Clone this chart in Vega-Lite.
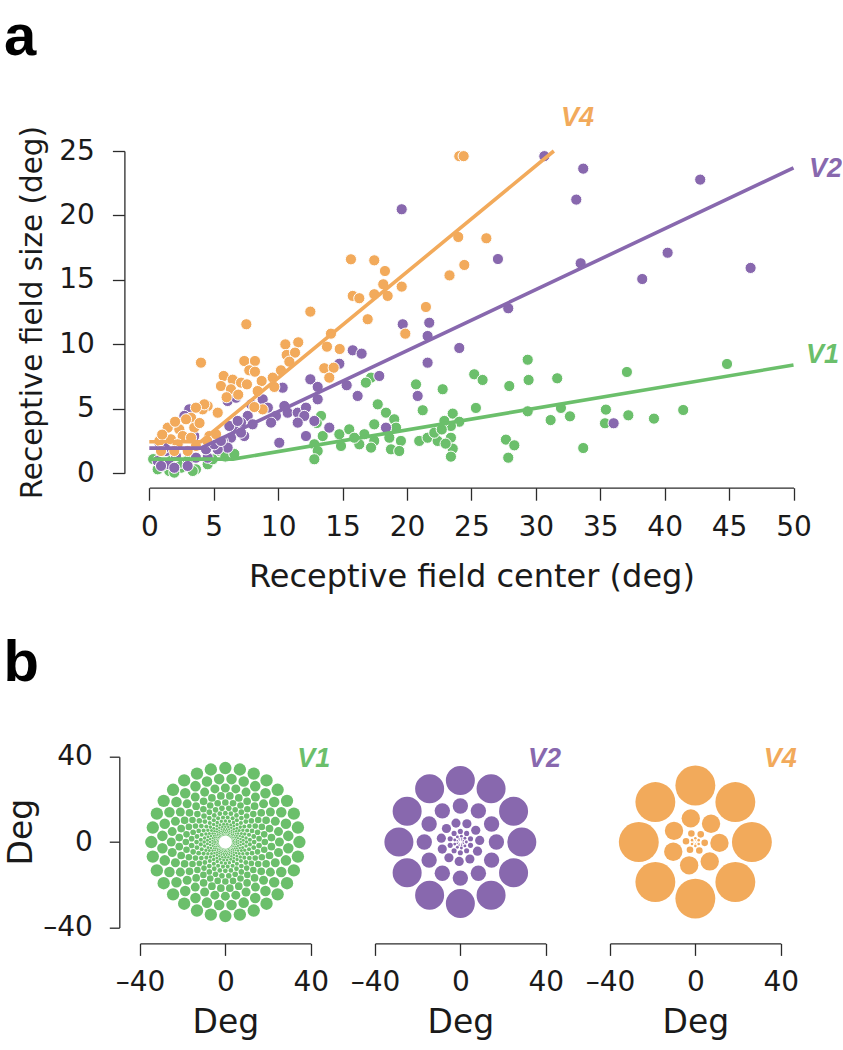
{
"$schema":"https://vega.github.io/schema/vega-lite/v6.json",
"background":"white",
"padding":{"left":3,"top":8,"right":0,"bottom":0},
"bounds":"flush",
"spacing":282.7,
"config":{
 "view":{"stroke":null},
 "font":"DejaVu Sans",
 "axis":{"grid":false,"domainColor":"#2b2b2b","tickColor":"#2b2b2b","domainWidth":1.3,"tickWidth":1.3,"labelColor":"#1a1a1a","titleColor":"#1a1a1a","labelFont":"DejaVu Sans","titleFont":"DejaVu Sans","titleFontWeight":"normal","labelFontSize":28,"titleFontSize":33,"labelOverlap":false,"labelFlush":false}
},
"datasets":{
 "pts":[
{"c":"V1","x":29.37,"y":8.81},{"c":"V1","x":25.22,"y":7.68},{"c":"V1","x":25.87,"y":7.24},{"c":"V1","x":29.44,"y":7.24},{"c":"V1","x":27.94,"y":6.77},{"c":"V1","x":31.66,"y":7.37},{"c":"V1","x":37.07,"y":7.86},{"c":"V1","x":44.84,"y":8.48},{"c":"V1","x":25.35,"y":5.07},{"c":"V1","x":23.55,"y":4.63},{"c":"V1","x":24.06,"y":4.0},{"c":"V1","x":23.41,"y":3.67},{"c":"V1","x":29.37,"y":4.81},{"c":"V1","x":31.95,"y":5.07},{"c":"V1","x":31.15,"y":4.13},{"c":"V1","x":32.65,"y":4.42},{"c":"V1","x":35.44,"y":4.94},{"c":"V1","x":35.37,"y":3.88},{"c":"V1","x":37.18,"y":4.5},{"c":"V1","x":39.17,"y":4.24},{"c":"V1","x":41.44,"y":4.91},{"c":"V1","x":23.41,"y":2.76},{"c":"V1","x":23.55,"y":1.91},{"c":"V1","x":23.41,"y":1.29},{"c":"V1","x":27.68,"y":2.61},{"c":"V1","x":28.33,"y":2.17},{"c":"V1","x":27.86,"y":1.21},{"c":"V1","x":33.68,"y":1.96},
{"c":"V1","x":17.21,"y":7.42},{"c":"V1","x":16.81,"y":7.03},{"c":"V1","x":20.7,"y":6.9},{"c":"V1","x":22.77,"y":6.52},{"c":"V1","x":21.22,"y":4.89},{"c":"V1","x":17.73,"y":5.35},{"c":"V1","x":18.37,"y":4.7},{"c":"V1","x":17.46,"y":3.8},{"c":"V1","x":19.01,"y":4.19},{"c":"V1","x":19.15,"y":3.54},{"c":"V1","x":22.9,"y":4.06},{"c":"V1","x":13.33,"y":4.45},{"c":"V1","x":13.0,"y":3.9},{"c":"V1","x":14.75,"y":3.03},{"c":"V1","x":15.52,"y":3.41},{"c":"V1","x":16.69,"y":3.03},{"c":"V1","x":13.46,"y":2.89},{"c":"V1","x":12.81,"y":2.25},{"c":"V1","x":13.07,"y":1.73},{"c":"V1","x":12.81,"y":1.09},{"c":"V1","x":14.88,"y":2.12},{"c":"V1","x":16.3,"y":2.25},{"c":"V1","x":15.91,"y":2.76},{"c":"V1","x":17.46,"y":2.51},{"c":"V1","x":17.21,"y":1.99},{"c":"V1","x":18.63,"y":2.76},{"c":"V1","x":18.76,"y":1.86},{"c":"V1","x":19.53,"y":2.51},{"c":"V1","x":19.4,"y":1.73},{"c":"V1","x":20.95,"y":2.51},{"c":"V1","x":21.6,"y":2.76},{"c":"V1","x":22.38,"y":2.51},{"c":"V1","x":22.12,"y":3.15},{"c":"V1","x":23.0,"y":2.3},{"c":"V1","x":22.7,"y":3.4},
{"c":"V1","x":0.65,"y":0.31},{"c":"V1","x":1.55,"y":0.18},{"c":"V1","x":2.46,"y":0.43},{"c":"V1","x":3.62,"y":0.31},{"c":"V1","x":4.53,"y":0.7},{"c":"V1","x":5.43,"y":1.73},{"c":"V1","x":4.92,"y":1.09},{"c":"V1","x":2.46,"y":0.82},{"c":"V1","x":1.04,"y":0.6},{"c":"V1","x":3.0,"y":1.0},{"c":"V1","x":5.9,"y":1.3},{"c":"V1","x":6.6,"y":1.5},{"c":"V1","x":0.3,"y":1.1},{"c":"V1","x":1.8,"y":1.2},{"c":"V1","x":1.94,"y":0.05},{"c":"V1","x":3.37,"y":0.18},
{"c":"V2","x":30.66,"y":24.6},{"c":"V2","x":33.68,"y":23.63},{"c":"V2","x":42.76,"y":22.78},{"c":"V2","x":33.14,"y":21.23},{"c":"V2","x":27.06,"y":16.62},{"c":"V2","x":40.23,"y":17.11},{"c":"V2","x":33.48,"y":16.29},{"c":"V2","x":46.67,"y":15.93},{"c":"V2","x":38.26,"y":15.07},{"c":"V2","x":27.86,"y":12.8},{"c":"V2","x":24.06,"y":9.72},{"c":"V2","x":36.04,"y":3.88},{"c":"V2","x":19.59,"y":20.48},
{"c":"V2","x":19.67,"y":11.56},{"c":"V2","x":21.73,"y":11.68},{"c":"V2","x":21.6,"y":10.65},{"c":"V2","x":21.6,"y":8.58},{"c":"V2","x":15.79,"y":9.54},{"c":"V2","x":16.48,"y":9.28},{"c":"V2","x":14.75,"y":8.5},{"c":"V2","x":17.85,"y":7.55},{"c":"V2","x":12.5,"y":7.29},{"c":"V2","x":13.07,"y":6.7},{"c":"V2","x":15.32,"y":6.83},{"c":"V2","x":16.17,"y":6.0},{"c":"V2","x":20.83,"y":6.0},{"c":"V2","x":13.07,"y":5.74},{"c":"V2","x":10.35,"y":6.64},{"c":"V2","x":8.8,"y":5.74},{"c":"V2","x":10.48,"y":5.22},{"c":"V2","x":9.83,"y":4.45},{"c":"V2","x":10.74,"y":4.7},{"c":"V2","x":9.45,"y":3.93},{"c":"V2","x":11.52,"y":4.7},{"c":"V2","x":12.16,"y":5.09},{"c":"V2","x":12.03,"y":4.45},{"c":"V2","x":12.81,"y":4.06},{"c":"V2","x":11.52,"y":3.93},{"c":"V2","x":13.97,"y":3.54},{"c":"V2","x":12.16,"y":2.89},{"c":"V2","x":10.09,"y":2.37},{"c":"V2","x":18.37,"y":3.54},{"c":"V2","x":7.64,"y":4.45},{"c":"V2","x":8.02,"y":3.8},{"c":"V2","x":7.12,"y":3.93},{"c":"V2","x":6.73,"y":3.28},{"c":"V2","x":7.37,"y":2.89},{"c":"V2","x":6.34,"y":2.76},{"c":"V2","x":5.7,"y":2.51},{"c":"V2","x":6.08,"y":1.99},{"c":"V2","x":5.31,"y":1.86},{"c":"V2","x":6.08,"y":5.61},{"c":"V2","x":3.1,"y":4.96},{"c":"V2","x":1.3,"y":1.73},{"c":"V2","x":0.65,"y":0.95},{"c":"V2","x":1.55,"y":0.7},{"c":"V2","x":2.98,"y":0.57},{"c":"V2","x":3.62,"y":1.21},{"c":"V2","x":4.53,"y":1.21},{"c":"V2","x":4.4,"y":1.86},{"c":"V2","x":5.04,"y":2.25},
{"c":"V2","x":6.73,"y":5.86},{"c":"V2","x":7.9,"y":5.35},{"c":"V2","x":9.2,"y":5.09},{"c":"V2","x":2.72,"y":4.45},{"c":"V2","x":0.78,"y":2.37},{"c":"V2","x":0.91,"y":0.57},{"c":"V2","x":1.94,"y":0.43},{"c":"V2","x":2.07,"y":1.34},{"c":"V2","x":5.56,"y":2.51},{"c":"V2","x":6.21,"y":3.67},{"c":"V2","x":6.86,"y":4.06},{"c":"V2","x":7.12,"y":3.15},{"c":"V2","x":3.49,"y":2.89},{"c":"V2","x":1.2,"y":2.0},
{"c":"V4","x":24.06,"y":24.6},{"c":"V4","x":24.4,"y":24.6},{"c":"V4","x":23.98,"y":18.33},{"c":"V4","x":26.16,"y":18.23},{"c":"V4","x":24.45,"y":16.16},{"c":"V4","x":23.3,"y":15.35},{"c":"V4","x":15.65,"y":16.6},{"c":"V4","x":17.46,"y":16.52},{"c":"V4","x":18.29,"y":15.69},{"c":"V4","x":18.16,"y":14.66},{"c":"V4","x":19.59,"y":14.48},{"c":"V4","x":15.79,"y":13.76},{"c":"V4","x":16.3,"y":13.58},{"c":"V4","x":17.46,"y":13.89},{"c":"V4","x":18.5,"y":13.76},{"c":"V4","x":12.5,"y":12.54},{"c":"V4","x":21.47,"y":12.9},{"c":"V4","x":16.95,"y":11.95},{"c":"V4","x":7.53,"y":11.56},{"c":"V4","x":19.87,"y":10.83},{"c":"V4","x":14.1,"y":10.83},{"c":"V4","x":10.56,"y":10.0},{"c":"V4","x":11.56,"y":10.16},{"c":"V4","x":13.79,"y":9.82},{"c":"V4","x":14.78,"y":9.64},{"c":"V4","x":10.66,"y":9.18},{"c":"V4","x":11.31,"y":9.36},{"c":"V4","x":10.87,"y":8.66},{"c":"V4","x":4.01,"y":8.58},{"c":"V4","x":7.37,"y":8.71},{"c":"V4","x":8.2,"y":8.71},{"c":"V4","x":7.76,"y":7.99},{"c":"V4","x":8.2,"y":7.88},{"c":"V4","x":10.22,"y":7.99},{"c":"V4","x":13.58,"y":8.15},{"c":"V4","x":14.31,"y":8.19},{"c":"V4","x":13.97,"y":7.42},{"c":"V4","x":5.77,"y":7.55},{"c":"V4","x":6.47,"y":7.26},{"c":"V4","x":5.56,"y":6.77},{"c":"V4","x":6.34,"y":6.52},{"c":"V4","x":7.12,"y":7.03},{"c":"V4","x":7.58,"y":6.9},{"c":"V4","x":8.72,"y":7.16},{"c":"V4","x":9.58,"y":7.42},{"c":"V4","x":9.7,"y":6.7},{"c":"V4","x":8.41,"y":6.38},{"c":"V4","x":8.8,"y":4.96},{"c":"V4","x":8.15,"y":5.14},{"c":"V4","x":4.53,"y":5.22},{"c":"V4","x":4.14,"y":4.96},{"c":"V4","x":5.31,"y":4.7},{"c":"V4","x":3.24,"y":4.31},{"c":"V4","x":2.85,"y":4.19},{"c":"V4","x":3.49,"y":3.54},{"c":"V4","x":1.43,"y":3.54},{"c":"V4","x":2.33,"y":3.41},{"c":"V4","x":4.66,"y":2.89},{"c":"V4","x":5.18,"y":3.03},{"c":"V4","x":2.59,"y":2.89},{"c":"V4","x":3.24,"y":2.76},{"c":"V4","x":1.68,"y":2.64},{"c":"V4","x":0.78,"y":2.51},{"c":"V4","x":2.2,"y":2.25},{"c":"V4","x":3.62,"y":2.12},{"c":"V4","x":2.98,"y":1.73},{"c":"V4","x":1.94,"y":1.73},{"c":"V4","x":0.91,"y":1.73},{"c":"V4","x":4.27,"y":5.35},{"c":"V4","x":3.62,"y":5.09},{"c":"V4","x":4.5,"y":2.5},{"c":"V4","x":1.0,"y":3.0},{"c":"V4","x":2.0,"y":4.0},{"c":"V4","x":3.9,"y":3.9},{"c":"V4","x":6.0,"y":5.9},{"c":"V4","x":6.9,"y":6.1}
 ],
 "fits":[
{"c":"V1","x":0,"y":1.1},{"c":"V1","x":6.5,"y":1.1},{"c":"V1","x":50,"y":8.4},
{"c":"V2","x":0,"y":1.95},{"c":"V2","x":4,"y":1.95},{"c":"V2","x":50,"y":23.7},
{"c":"V4","x":0,"y":2.45},{"c":"V4","x":4,"y":2.45},{"c":"V4","x":31.4,"y":25}
 ],
 "tlab":[
{"c":"V4","x":31.95,"y":26.94,"t":"V4"},{"c":"V2","x":51.2,"y":22.99,"t":"V2"},{"c":"V1","x":50.97,"y":8.56,"t":"V1"}
 ],
 "alab":[{"x":-11.28,"y":32.45,"t":"a"}],
 "blab":[{"x":-104.0,"y":75.4,"t":"b"}],
 "l1":[{"x":33.7,"y":35.1,"t":"V1"}],
 "l2":[{"x":31.7,"y":35.1,"t":"V2"}],
 "l4":[{"x":32.0,"y":35.1,"t":"V4"}],
 "v1":[
{"x":34.7,"y":0,"d":5.79},{"x":-34.7,"y":0,"d":5.79},{"x":0,"y":34.7,"d":5.79},{"x":0,"y":-34.7,"d":5.79},
{"x":34,"y":6.8,"d":5.79},{"x":-34,"y":6.8,"d":5.79},{"x":34,"y":-6.8,"d":5.79},{"x":-34,"y":-6.8,"d":5.79},
{"x":32.1,"y":13.3,"d":5.79},{"x":-32.1,"y":13.3,"d":5.79},{"x":32.1,"y":-13.3,"d":5.79},{"x":-32.1,"y":-13.3,"d":5.79},
{"x":28.9,"y":19.3,"d":5.79},{"x":-28.9,"y":19.3,"d":5.79},{"x":28.9,"y":-19.3,"d":5.79},{"x":-28.9,"y":-19.3,"d":5.79},
{"x":24.5,"y":24.5,"d":5.79},{"x":-24.5,"y":24.5,"d":5.79},{"x":24.5,"y":-24.5,"d":5.79},{"x":-24.5,"y":-24.5,"d":5.79},
{"x":19.3,"y":28.9,"d":5.79},{"x":-19.3,"y":28.9,"d":5.79},{"x":19.3,"y":-28.9,"d":5.79},{"x":-19.3,"y":-28.9,"d":5.79},
{"x":13.3,"y":32.1,"d":5.79},{"x":-13.3,"y":32.1,"d":5.79},{"x":13.3,"y":-32.1,"d":5.79},{"x":-13.3,"y":-32.1,"d":5.79},
{"x":6.8,"y":34,"d":5.79},{"x":-6.8,"y":34,"d":5.79},{"x":6.8,"y":-34,"d":5.79},{"x":-6.8,"y":-34,"d":5.79},
{"x":29.5,"y":2.9,"d":4.95},{"x":-29.5,"y":2.9,"d":4.95},{"x":29.5,"y":-2.9,"d":4.95},{"x":-29.5,"y":-2.9,"d":4.95},
{"x":28.4,"y":8.6,"d":4.95},{"x":-28.4,"y":8.6,"d":4.95},{"x":28.4,"y":-8.6,"d":4.95},{"x":-28.4,"y":-8.6,"d":4.95},
{"x":26.2,"y":14,"d":4.95},{"x":-26.2,"y":14,"d":4.95},{"x":26.2,"y":-14,"d":4.95},{"x":-26.2,"y":-14,"d":4.95},
{"x":22.9,"y":18.8,"d":4.95},{"x":-22.9,"y":18.8,"d":4.95},{"x":22.9,"y":-18.8,"d":4.95},{"x":-22.9,"y":-18.8,"d":4.95},
{"x":18.8,"y":22.9,"d":4.95},{"x":-18.8,"y":22.9,"d":4.95},{"x":18.8,"y":-22.9,"d":4.95},{"x":-18.8,"y":-22.9,"d":4.95},
{"x":14,"y":26.2,"d":4.95},{"x":-14,"y":26.2,"d":4.95},{"x":14,"y":-26.2,"d":4.95},{"x":-14,"y":-26.2,"d":4.95},
{"x":8.6,"y":28.4,"d":4.95},{"x":-8.6,"y":28.4,"d":4.95},{"x":8.6,"y":-28.4,"d":4.95},{"x":-8.6,"y":-28.4,"d":4.95},
{"x":2.9,"y":29.5,"d":4.95},{"x":-2.9,"y":29.5,"d":4.95},{"x":2.9,"y":-29.5,"d":4.95},{"x":-2.9,"y":-29.5,"d":4.95},
{"x":25.35,"y":0,"d":4.23},{"x":-25.35,"y":0,"d":4.23},{"x":0,"y":25.35,"d":4.23},{"x":0,"y":-25.35,"d":4.23},
{"x":24.9,"y":4.9,"d":4.23},{"x":-24.9,"y":4.9,"d":4.23},{"x":24.9,"y":-4.9,"d":4.23},{"x":-24.9,"y":-4.9,"d":4.23},
{"x":23.4,"y":9.7,"d":4.23},{"x":-23.4,"y":9.7,"d":4.23},{"x":23.4,"y":-9.7,"d":4.23},{"x":-23.4,"y":-9.7,"d":4.23},
{"x":21.1,"y":14.1,"d":4.23},{"x":-21.1,"y":14.1,"d":4.23},{"x":21.1,"y":-14.1,"d":4.23},{"x":-21.1,"y":-14.1,"d":4.23},
{"x":17.9,"y":17.9,"d":4.23},{"x":-17.9,"y":17.9,"d":4.23},{"x":17.9,"y":-17.9,"d":4.23},{"x":-17.9,"y":-17.9,"d":4.23},
{"x":14.1,"y":21.1,"d":4.23},{"x":-14.1,"y":21.1,"d":4.23},{"x":14.1,"y":-21.1,"d":4.23},{"x":-14.1,"y":-21.1,"d":4.23},
{"x":9.7,"y":23.4,"d":4.23},{"x":-9.7,"y":23.4,"d":4.23},{"x":9.7,"y":-23.4,"d":4.23},{"x":-9.7,"y":-23.4,"d":4.23},
{"x":4.9,"y":24.9,"d":4.23},{"x":-4.9,"y":24.9,"d":4.23},{"x":4.9,"y":-24.9,"d":4.23},{"x":-4.9,"y":-24.9,"d":4.23},
{"x":21.6,"y":2.1,"d":3.62},{"x":-21.6,"y":2.1,"d":3.62},{"x":21.6,"y":-2.1,"d":3.62},{"x":-21.6,"y":-2.1,"d":3.62},
{"x":20.7,"y":6.3,"d":3.62},{"x":-20.7,"y":6.3,"d":3.62},{"x":20.7,"y":-6.3,"d":3.62},{"x":-20.7,"y":-6.3,"d":3.62},
{"x":19.1,"y":10.2,"d":3.62},{"x":-19.1,"y":10.2,"d":3.62},{"x":19.1,"y":-10.2,"d":3.62},{"x":-19.1,"y":-10.2,"d":3.62},
{"x":16.8,"y":13.7,"d":3.62},{"x":-16.8,"y":13.7,"d":3.62},{"x":16.8,"y":-13.7,"d":3.62},{"x":-16.8,"y":-13.7,"d":3.62},
{"x":13.7,"y":16.8,"d":3.62},{"x":-13.7,"y":16.8,"d":3.62},{"x":13.7,"y":-16.8,"d":3.62},{"x":-13.7,"y":-16.8,"d":3.62},
{"x":10.2,"y":19.1,"d":3.62},{"x":-10.2,"y":19.1,"d":3.62},{"x":10.2,"y":-19.1,"d":3.62},{"x":-10.2,"y":-19.1,"d":3.62},
{"x":6.3,"y":20.7,"d":3.62},{"x":-6.3,"y":20.7,"d":3.62},{"x":6.3,"y":-20.7,"d":3.62},{"x":-6.3,"y":-20.7,"d":3.62},
{"x":2.1,"y":21.6,"d":3.62},{"x":-2.1,"y":21.6,"d":3.62},{"x":2.1,"y":-21.6,"d":3.62},{"x":-2.1,"y":-21.6,"d":3.62},
{"x":18.5,"y":0,"d":3.09},{"x":-18.5,"y":0,"d":3.09},{"x":0,"y":18.5,"d":3.09},{"x":0,"y":-18.5,"d":3.09},
{"x":18.2,"y":3.6,"d":3.09},{"x":-18.2,"y":3.6,"d":3.09},{"x":18.2,"y":-3.6,"d":3.09},{"x":-18.2,"y":-3.6,"d":3.09},
{"x":17.1,"y":7.1,"d":3.09},{"x":-17.1,"y":7.1,"d":3.09},{"x":17.1,"y":-7.1,"d":3.09},{"x":-17.1,"y":-7.1,"d":3.09},
{"x":15.4,"y":10.3,"d":3.09},{"x":-15.4,"y":10.3,"d":3.09},{"x":15.4,"y":-10.3,"d":3.09},{"x":-15.4,"y":-10.3,"d":3.09},
{"x":13.1,"y":13.1,"d":3.09},{"x":-13.1,"y":13.1,"d":3.09},{"x":13.1,"y":-13.1,"d":3.09},{"x":-13.1,"y":-13.1,"d":3.09},
{"x":10.3,"y":15.4,"d":3.09},{"x":-10.3,"y":15.4,"d":3.09},{"x":10.3,"y":-15.4,"d":3.09},{"x":-10.3,"y":-15.4,"d":3.09},
{"x":7.1,"y":17.1,"d":3.09},{"x":-7.1,"y":17.1,"d":3.09},{"x":7.1,"y":-17.1,"d":3.09},{"x":-7.1,"y":-17.1,"d":3.09},
{"x":3.6,"y":18.2,"d":3.09},{"x":-3.6,"y":18.2,"d":3.09},{"x":3.6,"y":-18.2,"d":3.09},{"x":-3.6,"y":-18.2,"d":3.09},
{"x":15.8,"y":1.6,"d":2.64},{"x":-15.8,"y":1.6,"d":2.64},{"x":15.8,"y":-1.6,"d":2.64},{"x":-15.8,"y":-1.6,"d":2.64},
{"x":15.1,"y":4.6,"d":2.64},{"x":-15.1,"y":4.6,"d":2.64},{"x":15.1,"y":-4.6,"d":2.64},{"x":-15.1,"y":-4.6,"d":2.64},
{"x":14,"y":7.5,"d":2.64},{"x":-14,"y":7.5,"d":2.64},{"x":14,"y":-7.5,"d":2.64},{"x":-14,"y":-7.5,"d":2.64},
{"x":12.2,"y":10,"d":2.64},{"x":-12.2,"y":10,"d":2.64},{"x":12.2,"y":-10,"d":2.64},{"x":-12.2,"y":-10,"d":2.64},
{"x":10,"y":12.2,"d":2.64},{"x":-10,"y":12.2,"d":2.64},{"x":10,"y":-12.2,"d":2.64},{"x":-10,"y":-12.2,"d":2.64},
{"x":7.5,"y":14,"d":2.64},{"x":-7.5,"y":14,"d":2.64},{"x":7.5,"y":-14,"d":2.64},{"x":-7.5,"y":-14,"d":2.64},
{"x":4.6,"y":15.1,"d":2.64},{"x":-4.6,"y":15.1,"d":2.64},{"x":4.6,"y":-15.1,"d":2.64},{"x":-4.6,"y":-15.1,"d":2.64},
{"x":1.6,"y":15.8,"d":2.64},{"x":-1.6,"y":15.8,"d":2.64},{"x":1.6,"y":-15.8,"d":2.64},{"x":-1.6,"y":-15.8,"d":2.64},
{"x":13.5,"y":0,"d":2.26},{"x":-13.5,"y":0,"d":2.26},{"x":0,"y":13.5,"d":2.26},{"x":0,"y":-13.5,"d":2.26},
{"x":13.3,"y":2.6,"d":2.26},{"x":-13.3,"y":2.6,"d":2.26},{"x":13.3,"y":-2.6,"d":2.26},{"x":-13.3,"y":-2.6,"d":2.26},
{"x":12.5,"y":5.2,"d":2.26},{"x":-12.5,"y":5.2,"d":2.26},{"x":12.5,"y":-5.2,"d":2.26},{"x":-12.5,"y":-5.2,"d":2.26},
{"x":11.25,"y":7.5,"d":2.26},{"x":-11.25,"y":7.5,"d":2.26},{"x":11.25,"y":-7.5,"d":2.26},{"x":-11.25,"y":-7.5,"d":2.26},
{"x":9.6,"y":9.6,"d":2.26},{"x":-9.6,"y":9.6,"d":2.26},{"x":9.6,"y":-9.6,"d":2.26},{"x":-9.6,"y":-9.6,"d":2.26},
{"x":7.5,"y":11.25,"d":2.26},{"x":-7.5,"y":11.25,"d":2.26},{"x":7.5,"y":-11.25,"d":2.26},{"x":-7.5,"y":-11.25,"d":2.26},
{"x":5.2,"y":12.5,"d":2.26},{"x":-5.2,"y":12.5,"d":2.26},{"x":5.2,"y":-12.5,"d":2.26},{"x":-5.2,"y":-12.5,"d":2.26},
{"x":2.6,"y":13.3,"d":2.26},{"x":-2.6,"y":13.3,"d":2.26},{"x":2.6,"y":-13.3,"d":2.26},{"x":-2.6,"y":-13.3,"d":2.26},
{"x":11.5,"y":1.1,"d":1.93},{"x":-11.5,"y":1.1,"d":1.93},{"x":11.5,"y":-1.1,"d":1.93},{"x":-11.5,"y":-1.1,"d":1.93},
{"x":11.1,"y":3.4,"d":1.93},{"x":-11.1,"y":3.4,"d":1.93},{"x":11.1,"y":-3.4,"d":1.93},{"x":-11.1,"y":-3.4,"d":1.93},
{"x":10.2,"y":5.4,"d":1.93},{"x":-10.2,"y":5.4,"d":1.93},{"x":10.2,"y":-5.4,"d":1.93},{"x":-10.2,"y":-5.4,"d":1.93},
{"x":8.9,"y":7.3,"d":1.93},{"x":-8.9,"y":7.3,"d":1.93},{"x":8.9,"y":-7.3,"d":1.93},{"x":-8.9,"y":-7.3,"d":1.93},
{"x":7.3,"y":8.9,"d":1.93},{"x":-7.3,"y":8.9,"d":1.93},{"x":7.3,"y":-8.9,"d":1.93},{"x":-7.3,"y":-8.9,"d":1.93},
{"x":5.4,"y":10.2,"d":1.93},{"x":-5.4,"y":10.2,"d":1.93},{"x":5.4,"y":-10.2,"d":1.93},{"x":-5.4,"y":-10.2,"d":1.93},
{"x":3.4,"y":11.1,"d":1.93},{"x":-3.4,"y":11.1,"d":1.93},{"x":3.4,"y":-11.1,"d":1.93},{"x":-3.4,"y":-11.1,"d":1.93},
{"x":1.1,"y":11.5,"d":1.93},{"x":-1.1,"y":11.5,"d":1.93},{"x":1.1,"y":-11.5,"d":1.93},{"x":-1.1,"y":-11.5,"d":1.93},
{"x":9.9,"y":0,"d":1.65},{"x":-9.9,"y":0,"d":1.65},{"x":0,"y":9.9,"d":1.65},{"x":0,"y":-9.9,"d":1.65},
{"x":9.7,"y":1.9,"d":1.65},{"x":-9.7,"y":1.9,"d":1.65},{"x":9.7,"y":-1.9,"d":1.65},{"x":-9.7,"y":-1.9,"d":1.65},
{"x":9.1,"y":3.8,"d":1.65},{"x":-9.1,"y":3.8,"d":1.65},{"x":9.1,"y":-3.8,"d":1.65},{"x":-9.1,"y":-3.8,"d":1.65},
{"x":8.2,"y":5.5,"d":1.65},{"x":-8.2,"y":5.5,"d":1.65},{"x":8.2,"y":-5.5,"d":1.65},{"x":-8.2,"y":-5.5,"d":1.65},
{"x":7,"y":7,"d":1.65},{"x":-7,"y":7,"d":1.65},{"x":7,"y":-7,"d":1.65},{"x":-7,"y":-7,"d":1.65},
{"x":5.5,"y":8.2,"d":1.65},{"x":-5.5,"y":8.2,"d":1.65},{"x":5.5,"y":-8.2,"d":1.65},{"x":-5.5,"y":-8.2,"d":1.65},
{"x":3.8,"y":9.1,"d":1.65},{"x":-3.8,"y":9.1,"d":1.65},{"x":3.8,"y":-9.1,"d":1.65},{"x":-3.8,"y":-9.1,"d":1.65},
{"x":1.9,"y":9.7,"d":1.65},{"x":-1.9,"y":9.7,"d":1.65},{"x":1.9,"y":-9.7,"d":1.65},{"x":-1.9,"y":-9.7,"d":1.65},
{"x":8.4,"y":0.8,"d":1.41},{"x":-8.4,"y":0.8,"d":1.41},{"x":8.4,"y":-0.8,"d":1.41},{"x":-8.4,"y":-0.8,"d":1.41},
{"x":8.1,"y":2.5,"d":1.41},{"x":-8.1,"y":2.5,"d":1.41},{"x":8.1,"y":-2.5,"d":1.41},{"x":-8.1,"y":-2.5,"d":1.41},
{"x":7.5,"y":4,"d":1.41},{"x":-7.5,"y":4,"d":1.41},{"x":7.5,"y":-4,"d":1.41},{"x":-7.5,"y":-4,"d":1.41},
{"x":6.5,"y":5.4,"d":1.41},{"x":-6.5,"y":5.4,"d":1.41},{"x":6.5,"y":-5.4,"d":1.41},{"x":-6.5,"y":-5.4,"d":1.41},
{"x":5.4,"y":6.5,"d":1.41},{"x":-5.4,"y":6.5,"d":1.41},{"x":5.4,"y":-6.5,"d":1.41},{"x":-5.4,"y":-6.5,"d":1.41},
{"x":4,"y":7.5,"d":1.41},{"x":-4,"y":7.5,"d":1.41},{"x":4,"y":-7.5,"d":1.41},{"x":-4,"y":-7.5,"d":1.41},
{"x":2.5,"y":8.1,"d":1.41},{"x":-2.5,"y":8.1,"d":1.41},{"x":2.5,"y":-8.1,"d":1.41},{"x":-2.5,"y":-8.1,"d":1.41},
{"x":0.8,"y":8.4,"d":1.41},{"x":-0.8,"y":8.4,"d":1.41},{"x":0.8,"y":-8.4,"d":1.41},{"x":-0.8,"y":-8.4,"d":1.41},
{"x":7.2,"y":0,"d":1.21},{"x":-7.2,"y":0,"d":1.21},{"x":0,"y":7.2,"d":1.21},{"x":0,"y":-7.2,"d":1.21},
{"x":7.1,"y":1.4,"d":1.21},{"x":-7.1,"y":1.4,"d":1.21},{"x":7.1,"y":-1.4,"d":1.21},{"x":-7.1,"y":-1.4,"d":1.21},
{"x":6.7,"y":2.8,"d":1.21},{"x":-6.7,"y":2.8,"d":1.21},{"x":6.7,"y":-2.8,"d":1.21},{"x":-6.7,"y":-2.8,"d":1.21},
{"x":6,"y":4,"d":1.21},{"x":-6,"y":4,"d":1.21},{"x":6,"y":-4,"d":1.21},{"x":-6,"y":-4,"d":1.21},
{"x":5.1,"y":5.1,"d":1.21},{"x":-5.1,"y":5.1,"d":1.21},{"x":5.1,"y":-5.1,"d":1.21},{"x":-5.1,"y":-5.1,"d":1.21},
{"x":4,"y":6,"d":1.21},{"x":-4,"y":6,"d":1.21},{"x":4,"y":-6,"d":1.21},{"x":-4,"y":-6,"d":1.21},
{"x":2.8,"y":6.7,"d":1.21},{"x":-2.8,"y":6.7,"d":1.21},{"x":2.8,"y":-6.7,"d":1.21},{"x":-2.8,"y":-6.7,"d":1.21},
{"x":1.4,"y":7.1,"d":1.21},{"x":-1.4,"y":7.1,"d":1.21},{"x":1.4,"y":-7.1,"d":1.21},{"x":-1.4,"y":-7.1,"d":1.21},
{"x":6.1,"y":0.6,"d":1.03},{"x":-6.1,"y":0.6,"d":1.03},{"x":6.1,"y":-0.6,"d":1.03},{"x":-6.1,"y":-0.6,"d":1.03},
{"x":5.9,"y":1.8,"d":1.03},{"x":-5.9,"y":1.8,"d":1.03},{"x":5.9,"y":-1.8,"d":1.03},{"x":-5.9,"y":-1.8,"d":1.03},
{"x":5.4,"y":2.9,"d":1.03},{"x":-5.4,"y":2.9,"d":1.03},{"x":5.4,"y":-2.9,"d":1.03},{"x":-5.4,"y":-2.9,"d":1.03},
{"x":4.8,"y":3.9,"d":1.03},{"x":-4.8,"y":3.9,"d":1.03},{"x":4.8,"y":-3.9,"d":1.03},{"x":-4.8,"y":-3.9,"d":1.03},
{"x":3.9,"y":4.8,"d":1.03},{"x":-3.9,"y":4.8,"d":1.03},{"x":3.9,"y":-4.8,"d":1.03},{"x":-3.9,"y":-4.8,"d":1.03},
{"x":2.9,"y":5.4,"d":1.03},{"x":-2.9,"y":5.4,"d":1.03},{"x":2.9,"y":-5.4,"d":1.03},{"x":-2.9,"y":-5.4,"d":1.03},
{"x":1.8,"y":5.9,"d":1.03},{"x":-1.8,"y":5.9,"d":1.03},{"x":1.8,"y":-5.9,"d":1.03},{"x":-1.8,"y":-5.9,"d":1.03},
{"x":0.6,"y":6.1,"d":1.03},{"x":-0.6,"y":6.1,"d":1.03},{"x":0.6,"y":-6.1,"d":1.03},{"x":-0.6,"y":-6.1,"d":1.03},
{"x":5.3,"y":0,"d":0.88},{"x":-5.3,"y":0,"d":0.88},{"x":0,"y":5.3,"d":0.88},{"x":0,"y":-5.3,"d":0.88},
{"x":5.2,"y":1,"d":0.88},{"x":-5.2,"y":1,"d":0.88},{"x":5.2,"y":-1,"d":0.88},{"x":-5.2,"y":-1,"d":0.88},
{"x":4.9,"y":2,"d":0.88},{"x":-4.9,"y":2,"d":0.88},{"x":4.9,"y":-2,"d":0.88},{"x":-4.9,"y":-2,"d":0.88},
{"x":4.4,"y":2.9,"d":0.88},{"x":-4.4,"y":2.9,"d":0.88},{"x":4.4,"y":-2.9,"d":0.88},{"x":-4.4,"y":-2.9,"d":0.88},
{"x":3.7,"y":3.7,"d":0.88},{"x":-3.7,"y":3.7,"d":0.88},{"x":3.7,"y":-3.7,"d":0.88},{"x":-3.7,"y":-3.7,"d":0.88},
{"x":2.9,"y":4.4,"d":0.88},{"x":-2.9,"y":4.4,"d":0.88},{"x":2.9,"y":-4.4,"d":0.88},{"x":-2.9,"y":-4.4,"d":0.88},
{"x":2,"y":4.9,"d":0.88},{"x":-2,"y":4.9,"d":0.88},{"x":2,"y":-4.9,"d":0.88},{"x":-2,"y":-4.9,"d":0.88},
{"x":1,"y":5.2,"d":0.88},{"x":-1,"y":5.2,"d":0.88},{"x":1,"y":-5.2,"d":0.88},{"x":-1,"y":-5.2,"d":0.88},
{"x":4.5,"y":0.4,"d":0.75},{"x":-4.5,"y":0.4,"d":0.75},{"x":4.5,"y":-0.4,"d":0.75},{"x":-4.5,"y":-0.4,"d":0.75},
{"x":4.3,"y":1.3,"d":0.75},{"x":-4.3,"y":1.3,"d":0.75},{"x":4.3,"y":-1.3,"d":0.75},{"x":-4.3,"y":-1.3,"d":0.75},
{"x":4,"y":2.1,"d":0.75},{"x":-4,"y":2.1,"d":0.75},{"x":4,"y":-2.1,"d":0.75},{"x":-4,"y":-2.1,"d":0.75},
{"x":3.5,"y":2.9,"d":0.75},{"x":-3.5,"y":2.9,"d":0.75},{"x":3.5,"y":-2.9,"d":0.75},{"x":-3.5,"y":-2.9,"d":0.75},
{"x":2.9,"y":3.5,"d":0.75},{"x":-2.9,"y":3.5,"d":0.75},{"x":2.9,"y":-3.5,"d":0.75},{"x":-2.9,"y":-3.5,"d":0.75},
{"x":2.1,"y":4,"d":0.75},{"x":-2.1,"y":4,"d":0.75},{"x":2.1,"y":-4,"d":0.75},{"x":-2.1,"y":-4,"d":0.75},
{"x":1.3,"y":4.3,"d":0.75},{"x":-1.3,"y":4.3,"d":0.75},{"x":1.3,"y":-4.3,"d":0.75},{"x":-1.3,"y":-4.3,"d":0.75},
{"x":0.4,"y":4.5,"d":0.75},{"x":-0.4,"y":4.5,"d":0.75},{"x":0.4,"y":-4.5,"d":0.75},{"x":-0.4,"y":-4.5,"d":0.75},
{"x":3.85,"y":0,"d":0.64},{"x":-3.85,"y":0,"d":0.64},{"x":0,"y":3.85,"d":0.64},{"x":0,"y":-3.85,"d":0.64},
{"x":3.78,"y":0.75,"d":0.64},{"x":-3.78,"y":0.75,"d":0.64},{"x":3.78,"y":-0.75,"d":0.64},{"x":-3.78,"y":-0.75,"d":0.64},
{"x":3.56,"y":1.47,"d":0.64},{"x":-3.56,"y":1.47,"d":0.64},{"x":3.56,"y":-1.47,"d":0.64},{"x":-3.56,"y":-1.47,"d":0.64},
{"x":3.2,"y":2.14,"d":0.64},{"x":-3.2,"y":2.14,"d":0.64},{"x":3.2,"y":-2.14,"d":0.64},{"x":-3.2,"y":-2.14,"d":0.64},
{"x":2.72,"y":2.72,"d":0.64},{"x":-2.72,"y":2.72,"d":0.64},{"x":2.72,"y":-2.72,"d":0.64},{"x":-2.72,"y":-2.72,"d":0.64},
{"x":2.14,"y":3.2,"d":0.64},{"x":-2.14,"y":3.2,"d":0.64},{"x":2.14,"y":-3.2,"d":0.64},{"x":-2.14,"y":-3.2,"d":0.64},
{"x":1.47,"y":3.56,"d":0.64},{"x":-1.47,"y":3.56,"d":0.64},{"x":1.47,"y":-3.56,"d":0.64},{"x":-1.47,"y":-3.56,"d":0.64},
{"x":0.75,"y":3.78,"d":0.64},{"x":-0.75,"y":3.78,"d":0.64},{"x":0.75,"y":-3.78,"d":0.64},{"x":-0.75,"y":-3.78,"d":0.64},
{"x":3.27,"y":0.32,"d":0.55},{"x":-3.27,"y":0.32,"d":0.55},{"x":3.27,"y":-0.32,"d":0.55},{"x":-3.27,"y":-0.32,"d":0.55},
{"x":3.15,"y":0.96,"d":0.55},{"x":-3.15,"y":0.96,"d":0.55},{"x":3.15,"y":-0.96,"d":0.55},{"x":-3.15,"y":-0.96,"d":0.55},
{"x":2.9,"y":1.55,"d":0.55},{"x":-2.9,"y":1.55,"d":0.55},{"x":2.9,"y":-1.55,"d":0.55},{"x":-2.9,"y":-1.55,"d":0.55},
{"x":2.54,"y":2.09,"d":0.55},{"x":-2.54,"y":2.09,"d":0.55},{"x":2.54,"y":-2.09,"d":0.55},{"x":-2.54,"y":-2.09,"d":0.55},
{"x":2.09,"y":2.54,"d":0.55},{"x":-2.09,"y":2.54,"d":0.55},{"x":2.09,"y":-2.54,"d":0.55},{"x":-2.09,"y":-2.54,"d":0.55},
{"x":1.55,"y":2.9,"d":0.55},{"x":-1.55,"y":2.9,"d":0.55},{"x":1.55,"y":-2.9,"d":0.55},{"x":-1.55,"y":-2.9,"d":0.55},
{"x":0.96,"y":3.15,"d":0.55},{"x":-0.96,"y":3.15,"d":0.55},{"x":0.96,"y":-3.15,"d":0.55},{"x":-0.96,"y":-3.15,"d":0.55},
{"x":0.32,"y":3.27,"d":0.55},{"x":-0.32,"y":3.27,"d":0.55},{"x":0.32,"y":-3.27,"d":0.55},{"x":-0.32,"y":-3.27,"d":0.55}
 ],
 "v2":[
{"x":28.8,"y":0,"d":13.6},{"x":24.94,"y":14.4,"d":13.6},{"x":14.4,"y":24.94,"d":13.6},{"x":0,"y":28.8,"d":13.6},{"x":-14.4,"y":24.94,"d":13.6},{"x":-24.94,"y":14.4,"d":13.6},{"x":-28.8,"y":0,"d":13.6},{"x":-24.94,"y":-14.4,"d":13.6},{"x":-14.4,"y":-24.94,"d":13.6},{"x":0,"y":-28.8,"d":13.6},{"x":14.4,"y":-24.94,"d":13.6},{"x":24.94,"y":-14.4,"d":13.6},
{"x":16.9,"y":0,"d":7.2},{"x":14.64,"y":8.45,"d":7.2},{"x":8.45,"y":14.64,"d":7.2},{"x":0,"y":16.9,"d":7.2},{"x":-8.45,"y":14.64,"d":7.2},{"x":-14.64,"y":8.45,"d":7.2},{"x":-16.9,"y":0,"d":7.2},{"x":-14.64,"y":-8.45,"d":7.2},{"x":-8.45,"y":-14.64,"d":7.2},{"x":0,"y":-16.9,"d":7.2},{"x":8.45,"y":-14.64,"d":7.2},{"x":14.64,"y":-8.45,"d":7.2},
{"x":-2.05,"y":8.87,"d":4.3},{"x":3.07,"y":8.57,"d":4.3},{"x":7.22,"y":5.54,"d":4.3},{"x":9.07,"y":0.76,"d":4.3},{"x":8.04,"y":-4.26,"d":4.3},{"x":4.47,"y":-7.93,"d":4.3},{"x":-0.54,"y":-9.08,"d":4.3},{"x":-5.36,"y":-7.35,"d":4.3},{"x":-8.48,"y":-3.29,"d":4.3},{"x":-8.91,"y":1.83,"d":4.3},{"x":-6.51,"y":6.36,"d":4.3},
{"x":4.76,"y":1.55,"d":2.4},{"x":2.94,"y":4.05,"d":2.4},{"x":0,"y":5,"d":2.4},{"x":-2.94,"y":4.05,"d":2.4},{"x":-4.76,"y":1.55,"d":2.4},{"x":-4.76,"y":-1.55,"d":2.4},{"x":-2.94,"y":-4.05,"d":2.4},{"x":0,"y":-5,"d":2.4},{"x":2.94,"y":-4.05,"d":2.4},{"x":4.76,"y":-1.55,"d":2.4},
{"x":2.8,"y":0,"d":1.35},{"x":2.14,"y":1.8,"d":1.35},{"x":0.49,"y":2.76,"d":1.35},{"x":-1.4,"y":2.42,"d":1.35},{"x":-2.63,"y":0.96,"d":1.35},{"x":-2.63,"y":-0.96,"d":1.35},{"x":-1.4,"y":-2.42,"d":1.35},{"x":0.49,"y":-2.76,"d":1.35},{"x":2.14,"y":-1.8,"d":1.35},
{"x":1.43,"y":0.59,"d":0.75},{"x":0.59,"y":1.43,"d":0.75},{"x":-0.59,"y":1.43,"d":0.75},{"x":-1.43,"y":0.59,"d":0.75},{"x":-1.43,"y":-0.59,"d":0.75},{"x":-0.59,"y":-1.43,"d":0.75},{"x":0.59,"y":-1.43,"d":0.75},{"x":1.43,"y":-0.59,"d":0.75},
{"x":0.85,"y":0,"d":0.4},{"x":0.43,"y":0.74,"d":0.4},{"x":-0.43,"y":0.74,"d":0.4},{"x":-0.85,"y":0,"d":0.4},{"x":-0.43,"y":-0.74,"d":0.4},{"x":0.43,"y":-0.74,"d":0.4}
 ],
 "v4":[
{"x":26.5,"y":0,"d":18.7},{"x":18.74,"y":18.74,"d":18.7},{"x":0,"y":26.5,"d":18.7},{"x":-18.74,"y":18.74,"d":18.7},{"x":-26.5,"y":0,"d":18.7},{"x":-18.74,"y":-18.74,"d":18.7},{"x":0,"y":-26.5,"d":18.7},{"x":18.74,"y":-18.74,"d":18.7},
{"x":11.29,"y":-0.39,"d":8.6},{"x":7.35,"y":8.58,"d":8.6},{"x":-2.14,"y":11.1,"d":8.6},{"x":-10.0,"y":5.25,"d":8.6},{"x":-10.35,"y":-4.54,"d":8.6},{"x":-2.91,"y":-10.92,"d":8.6},{"x":6.74,"y":-9.07,"d":8.6},
{"x":-1.86,"y":3.99,"d":3.1},{"x":2.52,"y":3.6,"d":3.1},{"x":4.38,"y":-0.38,"d":3.1},{"x":1.86,"y":-3.99,"d":3.1},{"x":-2.52,"y":-3.6,"d":3.1},{"x":-4.38,"y":0.38,"d":3.1},
{"x":1.56,"y":0.9,"d":1.2},{"x":0,"y":1.8,"d":1.2},{"x":-1.56,"y":0.9,"d":1.2},{"x":-1.56,"y":-0.9,"d":1.2},{"x":0,"y":-1.8,"d":1.2},{"x":1.56,"y":-0.9,"d":1.2},
{"x":0.7,"y":0,"d":0.45},{"x":0,"y":0.7,"d":0.45},{"x":-0.7,"y":0,"d":0.45},{"x":0,"y":-0.7,"d":0.45}
 ]
},
"vconcat":[
 {
  "width":654,"height":322.3,
  "layer":[
   {"data":{"name":"pts"},"mark":{"type":"circle","opacity":1,"stroke":"white","strokeWidth":1,"size":125},
    "encoding":{
     "x":{"field":"x","type":"quantitative","scale":{"domain":[0,50],"range":[9.3,653.5],"nice":false,"zero":false},"axis":{"values":[0,5,10,15,20,25,30,35,40,45,50],"offset":14.4,"tickSize":12.5,"labelPadding":13,"title":"Receptive field center (deg)","titleFontSize":32,"titlePadding":20}},
     "y":{"field":"y","type":"quantitative","scale":{"domain":[0,25],"nice":false,"zero":false},"axis":{"values":[0,5,10,15,20,25],"offset":15.6,"tickSize":12,"labelPadding":18,"title":"Receptive field size (deg)","titleFontSize":29.5,"titlePadding":11}},
     "color":{"field":"c","type":"nominal","scale":{"domain":["V1","V2","V4"],"range":["#6bbf6b","#8868ae","#f2aa5b"]},"legend":null}
    }},
   {"data":{"name":"fits"},"mark":{"type":"line","strokeWidth":3.6},
    "encoding":{
     "x":{"field":"x","type":"quantitative","scale":{"domain":[0,50],"range":[9.3,653.5],"nice":false,"zero":false}},
     "y":{"field":"y","type":"quantitative","scale":{"domain":[0,25],"nice":false,"zero":false}},
     "color":{"field":"c","type":"nominal","scale":{"domain":["V1","V2","V4"],"range":["#6bbf6b","#8868ae","#f2aa5b"]},"legend":null}
    }},
   {"data":{"name":"tlab"},"mark":{"type":"text","font":"Liberation Sans","fontSize":27,"fontWeight":"bold","fontStyle":"italic","align":"left","baseline":"alphabetic"},
    "encoding":{
     "x":{"field":"x","type":"quantitative","scale":{"domain":[0,50],"range":[9.3,653.5],"nice":false,"zero":false}},
     "y":{"field":"y","type":"quantitative","scale":{"domain":[0,25],"nice":false,"zero":false}},
     "text":{"field":"t"},
     "color":{"field":"c","type":"nominal","scale":{"domain":["V1","V2","V4"],"range":["#6bbf6b","#8868ae","#f2aa5b"]},"legend":null}
    }},
   {"data":{"name":"alab"},"mark":{"type":"text","font":"Liberation Sans","fontSize":58,"fontWeight":"bold","align":"left","baseline":"alphabetic","color":"black"},
    "encoding":{
     "x":{"field":"x","type":"quantitative","scale":{"domain":[0,50],"range":[9.3,653.5],"nice":false,"zero":false}},
     "y":{"field":"y","type":"quantitative","scale":{"domain":[0,25],"nice":false,"zero":false}},
     "text":{"field":"t"}
    }}
  ]
 },
 {
  "bounds":"flush",
  "spacing":64,
  "hconcat":[
   {"width":170.7,"height":170.7,
    "layer":[
     {"data":{"name":"v1"},"mark":{"type":"circle","opacity":1,"color":"#6bbf6b"},
      "encoding":{
       "x":{"field":"x","type":"quantitative","scale":{"domain":[-40,40],"nice":false},"axis":{"values":[-40,0,40],"offset":16,"tickSize":12,"labelPadding":13,"labelExpr":"datum.value < 0 ? '–' + format(-datum.value, 'd') : format(datum.value, 'd')","title":"Deg","titlePadding":10}},
       "y":{"field":"y","type":"quantitative","scale":{"domain":[-40,40],"nice":false},"axis":{"values":[-40,0,40],"offset":20.7,"tickSize":10,"labelPadding":17,"labelExpr":"datum.value < 0 ? '–' + format(-datum.value, 'd') : format(datum.value, 'd')","title":"Deg","titlePadding":4,"titleY":75}},
       "size":{"field":"d","type":"quantitative","scale":{"type":"pow","exponent":2,"domain":[0,20],"range":[0,1821.6]},"legend":null}
      }},
     {"data":{"name":"l1"},"mark":{"type":"text","font":"Liberation Sans","fontSize":27,"fontWeight":"bold","fontStyle":"italic","align":"left","baseline":"alphabetic","color":"#6bbf6b"},
      "encoding":{
       "x":{"field":"x","type":"quantitative","scale":{"domain":[-40,40],"nice":false}},
       "y":{"field":"y","type":"quantitative","scale":{"domain":[-40,40],"nice":false}},
       "text":{"field":"t"}
      }},
     {"data":{"name":"blab"},"mark":{"type":"text","font":"Liberation Sans","fontSize":58,"fontWeight":"bold","align":"left","baseline":"alphabetic","color":"black"},
      "encoding":{
       "x":{"field":"x","type":"quantitative","scale":{"domain":[-40,40],"nice":false}},
       "y":{"field":"y","type":"quantitative","scale":{"domain":[-40,40],"nice":false}},
       "text":{"field":"t"}
      }}
    ]},
   {"width":170.7,"height":170.7,
    "layer":[
     {"data":{"name":"v2"},"mark":{"type":"circle","opacity":1,"color":"#8868ae"},
      "encoding":{
       "x":{"field":"x","type":"quantitative","scale":{"domain":[-40,40],"nice":false},"axis":{"values":[-40,0,40],"offset":16,"tickSize":12,"labelPadding":13,"labelExpr":"datum.value < 0 ? '–' + format(-datum.value, 'd') : format(datum.value, 'd')","title":"Deg","titlePadding":10}},
       "y":{"field":"y","type":"quantitative","scale":{"domain":[-40,40],"nice":false},"axis":null},
       "size":{"field":"d","type":"quantitative","scale":{"type":"pow","exponent":2,"domain":[0,20],"range":[0,1821.6]},"legend":null}
      }},
     {"data":{"name":"l2"},"mark":{"type":"text","font":"Liberation Sans","fontSize":27,"fontWeight":"bold","fontStyle":"italic","align":"left","baseline":"alphabetic","color":"#8868ae"},
      "encoding":{
       "x":{"field":"x","type":"quantitative","scale":{"domain":[-40,40],"nice":false}},
       "y":{"field":"y","type":"quantitative","scale":{"domain":[-40,40],"nice":false},"axis":null},
       "text":{"field":"t"}
      }}
    ]},
   {"width":170.7,"height":170.7,
    "layer":[
     {"data":{"name":"v4"},"mark":{"type":"circle","opacity":1,"color":"#f2aa5b"},
      "encoding":{
       "x":{"field":"x","type":"quantitative","scale":{"domain":[-40,40],"nice":false},"axis":{"values":[-40,0,40],"offset":16,"tickSize":12,"labelPadding":13,"labelExpr":"datum.value < 0 ? '–' + format(-datum.value, 'd') : format(datum.value, 'd')","title":"Deg","titlePadding":10}},
       "y":{"field":"y","type":"quantitative","scale":{"domain":[-40,40],"nice":false},"axis":null},
       "size":{"field":"d","type":"quantitative","scale":{"type":"pow","exponent":2,"domain":[0,20],"range":[0,1821.6]},"legend":null}
      }},
     {"data":{"name":"l4"},"mark":{"type":"text","font":"Liberation Sans","fontSize":27,"fontWeight":"bold","fontStyle":"italic","align":"left","baseline":"alphabetic","color":"#f2aa5b"},
      "encoding":{
       "x":{"field":"x","type":"quantitative","scale":{"domain":[-40,40],"nice":false}},
       "y":{"field":"y","type":"quantitative","scale":{"domain":[-40,40],"nice":false},"axis":null},
       "text":{"field":"t"}
      }}
    ]}
  ]
 }
]
}
